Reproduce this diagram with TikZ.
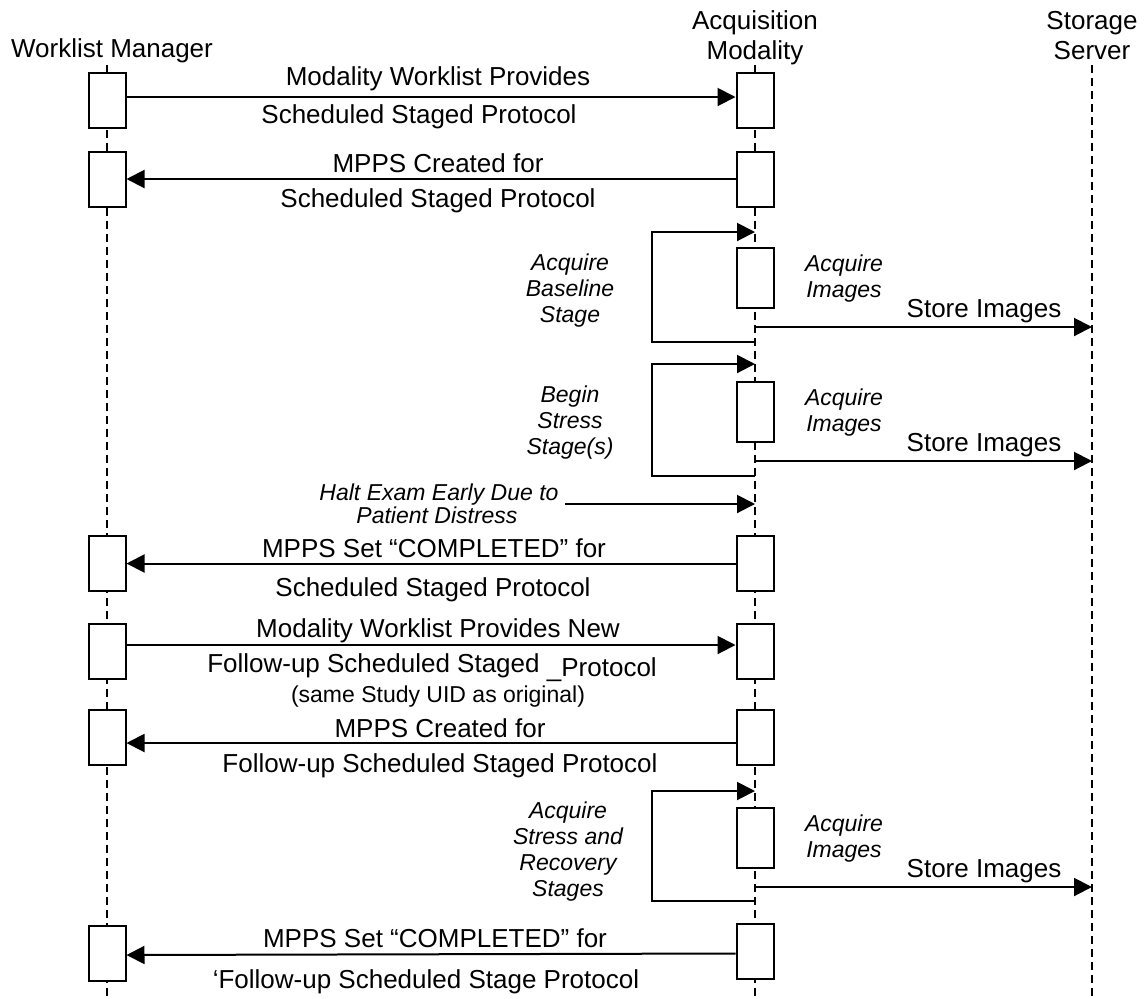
\documentclass[tikz,border=0pt]{standalone}
\usepackage{fontspec}
\setmainfont{Liberation Sans}
\usetikzlibrary{arrows.meta}
\tikzset{
    actbox/.style={draw, fill=white, line width=1pt, minimum width=18.5pt, minimum height=27.5pt, inner sep=0pt},
    msg/.style={line width=1pt, -{Triangle[length=9pt, width=9pt]}},
    lifeline/.style={line width=0.65pt, dash pattern=on 4pt off 2.5pt},
    lbl/.style={font=\fontsize{13}{15}\selectfont, anchor=base, inner sep=0pt},
    note/.style={font=\fontsize{11.5}{13}\selectfont\itshape, anchor=base, inner sep=0pt, align=center}
}

\begin{document}
\begin{tikzpicture}[x=0.5pt, y=-0.5pt]
    \useasboundingbox (0,0) rectangle (1146,998);

    % Participants (base = last line)
    \node[lbl] (wm) at (112,57) {Worklist Manager};
    \node[lbl, align=center] (am) at (755,59) {Acquisition\\Modality};
    \node[lbl, align=center] (ss) at (1092,59) {Storage\\Server};

    % Lifelines
    \coordinate (wmtop) at (107,65);
    \coordinate (wmbot) at (107,998);
    \coordinate (amtop) at (755,65);
    \coordinate (ambot) at (755,998);
    \coordinate (sstop) at (1092,65);
    \coordinate (ssbot) at (1092,998);
    \draw[lifeline] (wmtop) -- (wmbot);
    \draw[lifeline] (amtop) -- (ambot);
    \draw[lifeline] (sstop) -- (ssbot);

    % Activation boxes
    \node[actbox] (w1) at (107,100.5) {};
    \node[actbox] (w2) at (107,179) {};
    \node[actbox] (w3) at (107,563.5) {};
    \node[actbox] (w4) at (107,651) {};
    \node[actbox] (w5) at (107,737.5) {};
    \node[actbox] (w6) at (107,953) {};
    \node[actbox] (a1) at (755,100.5) {};
    \node[actbox] (a2) at (755,179) {};
    \node[actbox, minimum height=30pt] (a3) at (755,278) {};
    \node[actbox, minimum height=30pt] (a4) at (755,412) {};
    \node[actbox] (a5) at (755,563.5) {};
    \node[actbox] (a6) at (755,651) {};
    \node[actbox] (a7) at (755,737.5) {};
    \node[actbox, minimum height=30pt] (a8) at (755,838) {};
    \node[actbox] (a9) at (755,951.5) {};

    % Worklist and MPPS messages
    \draw[msg] ([yshift=1.75pt]w1.east) -- ([yshift=1.75pt]a1.west);
    \node[lbl] (m1a) at (438,85) {Modality Worklist Provides};
    \node[lbl] (m1b) at (419,123) {Scheduled Staged Protocol};

    \draw[msg] (a2.west) -- (w2.east);
    \node[lbl] (m2a) at (438,172) {MPPS Created for};
    \node[lbl] (m2b) at (438,207) {Scheduled Staged Protocol};

    % Baseline stage
    \coordinate (l1t) at (755,232);
    \coordinate (l1b) at (755,342);
    \draw[msg] (l1b) -- ++(-103,0) |- (l1t);
    \node[note] (n1) at (570,322) {Acquire\\Baseline\\Stage};
    \node[note] (i1) at (844,297) {Acquire\\Images};
    \coordinate (s1a) at (755,327);
    \coordinate (s1b) at (1092,327);
    \draw[msg] (s1a) -- (s1b);
    \node[lbl] (st1) at (984,317) {Store Images};

    % Stress stage(s)
    \coordinate (l2t) at (755,364);
    \coordinate (l2b) at (755,476);
    \draw[msg] (l2b) -- ++(-103,0) |- (l2t);
    \node[note] (n2) at (570,454) {Begin\\Stress\\Stage(s)};
    \node[note] (i2) at (844,431) {Acquire\\Images};
    \coordinate (s2a) at (755,461);
    \coordinate (s2b) at (1092,461);
    \draw[msg] (s2a) -- (s2b);
    \node[lbl] (st2) at (984,451) {Store Images};

    % Halt
    \coordinate (h1) at (565,504);
    \coordinate (h2) at (755,504);
    \draw[msg] (h1) -- (h2);
    \node[note] (hlt) at (439,500) {Halt Exam Early Due to};
    \node[note] (hlt2) at (437,523) {Patient Distress};

    \draw[msg] (a5.west) -- (w3.east);
    \node[lbl] (m3a) at (434,557) {MPPS Set “COMPLETED” for};
    \node[lbl] (m3b) at (433,596) {Scheduled Staged Protocol};

    % Follow-up protocol
    \draw[msg] ([yshift=3pt]w4.east) -- ([yshift=3pt]a6.west);
    \node[lbl] (m4a) at (438,637) {Modality Worklist Provides New};
    \node[lbl] (m4b) at (432,672) {Follow-up Scheduled Staged \raisebox{-2pt}{\_Protocol}};
    \node[lbl, font=\fontsize{11.5}{13}\selectfont] (m4c) at (438,702) {(same Study UID as original)};

    \draw[msg] ([yshift=-2.75pt]a7.west) -- ([yshift=-2.75pt]w5.east);
    \node[lbl] (m5a) at (440,737) {MPPS Created for};
    \node[lbl] (m5b) at (440,772) {Follow-up Scheduled Staged Protocol};

    % Stress and recovery stages
    \coordinate (l3t) at (755,791);
    \coordinate (l3b) at (755,901);
    \draw[msg] (l3b) -- ++(-103,0) |- (l3t);
    \node[note] (n3) at (568,896) {Acquire\\Stress and\\Recovery\\Stages};
    \node[note] (i3) at (844,857) {Acquire\\Images};
    \coordinate (s3a) at (755,887);
    \coordinate (s3b) at (1092,887);
    \draw[msg] (s3a) -- (s3b);
    \node[lbl] (st3) at (984,877) {Store Images};

    \draw[msg] ([yshift=-1pt]a9.west) -- ([yshift=-1pt]w6.east);
    \node[lbl] (m6a) at (435,947) {MPPS Set “COMPLETED” for};
    \node[lbl] (m6b) at (426,988) {‘Follow-up Scheduled Stage Protocol};
\end{tikzpicture}
\end{document}
